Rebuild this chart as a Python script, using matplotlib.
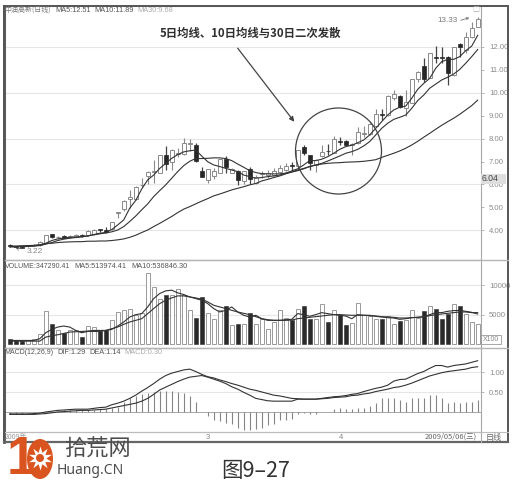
import numpy as np
import matplotlib
matplotlib.use("Agg")
import matplotlib.pyplot as plt
from matplotlib.patches import Circle, Ellipse, Rectangle

opens = [3.36,3.30,3.27,3.30,3.34,3.36,3.46,3.83,3.69,3.74,3.69,3.72,3.81,3.78,3.82,4.04,4.03,4.04,4.75,4.93,
         5.35,5.37,5.96,6.38,6.56,6.52,7.27,6.97,7.33,7.33,7.78,7.72,6.59,6.20,6.38,6.52,7.10,6.52,6.57,6.15,
         6.69,6.08,6.46,6.40,6.41,6.56,6.63,6.84,6.81,7.65,7.27,6.85,7.24,7.47,7.39,7.88,7.88,7.73,7.80,8.20,
         8.20,8.55,9.06,9.03,9.79,9.86,9.32,9.57,10.60,11.16,10.66,11.54,11.56,11.58,10.76,12.14,11.87,12.45,12.89]
closes = [3.32,3.27,3.24,3.32,3.36,3.50,3.77,3.71,3.70,3.68,3.75,3.80,3.74,3.97,4.03,4.02,3.94,4.35,4.77,5.29,
          5.47,5.88,5.98,6.53,6.59,7.27,6.89,7.50,7.36,7.80,7.80,7.02,6.34,6.66,6.60,7.10,6.78,6.66,6.18,6.57,
          6.24,6.34,6.48,6.50,6.59,6.70,6.82,6.82,7.49,7.36,6.92,7.08,7.43,7.45,7.97,7.86,7.71,7.75,8.28,8.22,
          8.62,9.06,9.04,9.86,9.93,9.38,9.61,10.59,10.91,10.62,11.72,11.52,11.54,10.88,11.98,11.98,12.42,12.83,13.21]
highs = [3.40,3.33,3.30,3.35,3.38,3.53,3.80,3.85,3.76,3.77,3.78,3.84,3.83,4.00,4.06,4.05,4.12,4.38,4.78,5.32,
         5.75,5.92,6.27,6.58,7.07,7.30,7.69,7.53,7.58,8.03,7.97,7.80,6.78,6.68,6.70,7.13,7.22,6.73,6.63,6.60,
         6.75,6.40,6.60,6.62,6.73,6.85,6.92,6.97,7.52,7.72,7.30,7.10,7.72,7.77,8.11,8.06,7.92,7.82,8.52,8.55,
         8.74,9.28,9.28,9.89,10.12,9.90,10.12,10.62,10.97,11.50,11.75,12.06,12.01,11.60,12.00,12.17,12.67,13.10,13.33]
lows = [3.28,3.24,3.22,3.27,3.30,3.33,3.44,3.68,3.63,3.66,3.66,3.70,3.71,3.76,3.80,3.92,3.90,4.00,4.55,4.82,
        4.95,5.33,5.90,6.00,6.05,6.50,6.63,6.63,7.20,7.30,7.48,6.98,6.32,6.05,6.22,6.48,6.49,6.49,5.98,6.02,
        6.00,6.00,6.27,6.30,6.35,6.50,6.58,6.63,6.63,7.28,6.63,6.56,7.20,7.29,7.36,7.72,7.68,7.28,7.76,8.06,
        8.17,8.50,8.81,9.00,9.69,9.33,9.00,9.54,10.49,10.49,10.63,11.29,11.29,10.34,10.74,11.58,11.72,12.40,12.86]
ma5 = [3.29,3.29,3.30,3.31,3.33,3.36,3.43,3.55,3.62,3.66,3.69,3.71,3.72,3.75,3.81,3.87,3.90,4.03,4.23,4.45,
       4.96,5.30,5.80,6.20,6.41,6.70,6.92,7.14,7.30,7.42,7.47,7.50,7.24,6.99,6.85,6.78,6.70,6.63,6.56,6.41,
       6.34,6.27,6.30,6.34,6.37,6.41,6.49,6.59,6.68,6.85,7.04,7.04,7.10,7.21,7.36,7.53,7.65,7.71,7.82,7.94,
       8.16,8.45,8.74,9.03,9.25,9.37,9.42,9.76,10.15,10.41,10.63,11.07,11.36,11.46,11.46,11.58,11.84,12.04,12.51]
ma10 = [3.27,3.27,3.28,3.29,3.30,3.33,3.39,3.46,3.55,3.61,3.65,3.68,3.71,3.75,3.80,3.84,3.88,3.93,4.01,4.16,
        4.38,4.62,4.89,5.15,5.47,5.73,5.98,6.27,6.56,6.82,7.01,7.13,7.13,7.14,7.16,7.16,7.13,7.04,6.89,6.75,
        6.60,6.52,6.47,6.46,6.46,6.46,6.49,6.54,6.60,6.68,6.78,6.85,6.92,7.02,7.13,7.24,7.36,7.43,7.53,7.68,
        7.87,8.16,8.45,8.67,8.84,8.93,9.03,9.32,9.66,9.90,10.20,10.38,10.56,10.68,10.82,11.02,11.29,11.58,11.89]
ma30 = [3.31,3.31,3.32,3.33,3.34,3.36,3.42,3.43,3.46,3.48,3.49,3.50,3.50,3.52,3.52,3.53,3.53,3.55,3.58,3.62,
        3.69,3.78,3.90,4.01,4.16,4.30,4.45,4.60,4.77,4.92,5.03,5.15,5.27,5.38,5.50,5.58,5.67,5.76,5.83,5.90,
        5.98,6.04,6.15,6.22,6.30,6.37,6.46,6.54,6.63,6.70,6.78,6.84,6.89,6.92,6.94,6.95,6.97,6.98,6.99,7.01,
        7.04,7.08,7.18,7.27,7.36,7.46,7.58,7.72,7.88,8.06,8.23,8.41,8.58,8.74,8.89,9.06,9.25,9.44,9.68]
volume = [850,680,600,800,900,1800,5580,3500,2370,1920,2370,2370,1240,3050,2940,2260,2490,4070,5480,5760,
          5930,5030,5370,11980,9610,7730,8300,8420,9320,8420,5760,4520,8020,5370,4240,5760,6440,3220,3390,3500,
          5370,3390,4240,2540,3790,5760,4520,4070,5990,6550,4350,4350,6890,3790,5760,5030,3340,3670,7060,5030,
          4750,4240,4240,4800,3390,3950,4070,5880,4520,5650,6550,6000,4240,5090,6890,6440,5200,3790,3500]
vol_ma5 = [680,680,680,680,680,960,1980,2540,2940,3110,2940,2370,1980,2200,2200,2200,2370,2540,3110,3790,
           4630,5030,5200,6330,7740,8590,9040,9150,8700,8420,8020,7740,7460,6890,6050,5480,5760,6330,5480,4920,
           4630,4920,4350,4070,4070,4070,4180,4240,5200,5030,4750,5030,5370,5200,5030,4920,4800,4350,5030,4920,
           4920,4750,4630,4520,4460,4240,4350,4520,4580,4630,5030,5370,5370,5590,5710,5760,5590,5420,5140]
vol_ma10 = [565,565,565,565,565,565,1240,1470,1640,1860,2090,2150,2200,2260,2370,2370,2370,2660,2940,3390,
            3790,4070,4350,5200,6050,6890,7460,7850,8190,8190,8020,7850,7630,7180,6610,6330,6050,5760,5480,5250,
            5030,4690,4350,4180,4070,4070,4070,4120,4350,4460,4580,4690,4800,4920,5030,5030,4970,4920,4920,4920,
            4860,4800,4690,4630,4580,4460,4460,4520,4580,4690,4860,5030,5140,5250,5370,5480,5480,5370,5370]
macd_bar = [-.03,-.03,-.03,-.02,-.01,0,.02,.04,.04,.05,.05,.05,.05,.06,.07,.08,.09,.12,.14,.27,
            .35,.42,.45,.49,.52,.54,.54,.54,.51,.48,.42,.25,.02,-.08,-.19,-.22,-.26,-.30,-.38,-.43,
            -.43,-.42,-.40,-.32,-.28,-.19,-.19,-.17,-.05,-.01,-.03,-.05,0,0,.08,.10,.08,.08,.12,.12,
            .17,.24,.35,.37,.37,.31,.25,.35,.37,.37,.43,.43,.37,.23,.25,.24,.27,.27,.30]
dif = [-.04,-.04,-.04,-.04,-.03,-.02,.01,.03,.05,.06,.07,.08,.08,.08,.10,.12,.13,.19,.23,.28,
       .35,.43,.53,.62,.72,.83,.92,.98,1.02,1.06,1.08,1.02,.95,.89,.86,.81,.77,.72,.68,.63,
       .58,.55,.51,.47,.43,.41,.38,.35,.34,.33,.33,.33,.35,.37,.39,.40,.42,.45,.47,.52,
       .56,.60,.63,.68,.78,.82,.83,.90,.97,1.02,1.10,1.17,1.17,1.13,1.17,1.19,1.21,1.25,1.29]
dea = [-.05,-.05,-.05,-.05,-.05,-.04,-.03,-.01,.01,.02,.03,.04,.05,.05,.06,.07,.08,.11,.14,.17,
       .20,.23,.28,.35,.45,.56,.63,.70,.77,.83,.88,.90,.92,.88,.83,.78,.72,.64,.58,.50,
       .43,.35,.32,.29,.28,.28,.28,.28,.33,.33,.33,.33,.34,.35,.37,.38,.39,.42,.43,.46,
       .48,.52,.55,.58,.62,.64,.68,.73,.79,.85,.91,.95,.99,1.02,1.04,1.06,1.08,1.12,1.14]
price_ticks = [4, 5, 6, 7, 8, 9, 10, 11, 12]
price_grid = [4, 6, 8, 10, 12]
vol_ticks = [5000, 10000]
macd_ticks = [0.5, 1.0]

W, H = 515, 486
fig = plt.figure(figsize=(W / 100, H / 100), dpi=100, facecolor="white")
LEFT, RIGHT = 4.5, 480.7
def panel(top, bottom):
    return fig.add_axes([LEFT / W, 1 - bottom / H, (RIGHT - LEFT) / W, (bottom - top) / H])

ax_p = panel(6, 260)
ax_v = panel(260, 347.5)
ax_m = panel(347.5, 432)
GRAYTXT = "#8c8c8c"
LAB = ["Liberation Sans", "DejaVu Sans"]
x = np.arange(len(closes))
for ax in (ax_p, ax_v, ax_m):
    ax.set_xlim(-0.87, 78.5)
    ax.set_xticks([])
    ax.yaxis.tick_right()
    ax.tick_params(axis="y", length=2, width=0.6, color="#aaaaaa", labelcolor=GRAYTXT, labelsize=5.6, pad=4)
    for s in ax.spines.values():
        s.set_color("#a8a8a8")
        s.set_linewidth(0.8)

o, c, h, l = map(np.array, (opens, closes, highs, lows))
down = c < o
# price
ax_p.set_ylim(2.70, 13.79)
ax_p.hlines(price_grid, -0.87, 78.5, color="#e6e6e6", lw=0.8, zorder=1)
ax_p.vlines(x[~down], l[~down], h[~down], color="#8a8a8a", lw=0.8, zorder=2)
ax_p.vlines(x[down], l[down], h[down], color="#444444", lw=0.9, zorder=2)
ax_p.bar(x[~down], np.maximum(c - o, 0.03)[~down], bottom=o[~down], width=0.68, facecolor="white", edgecolor="#8a8a8a", lw=0.7, zorder=3)
ax_p.bar(x[down], np.maximum(o - c, 0.03)[down], bottom=c[down], width=0.72, facecolor="#262626", edgecolor="#262626", lw=0.5, zorder=3)
ax_p.plot(x, ma5, color="#333333", lw=0.8, zorder=4)
ax_p.plot(x, ma10, color="#333333", lw=0.8, zorder=4)
ax_p.plot(x, ma30, color="#333333", lw=0.8, zorder=4)
ax_p.set_yticks(price_ticks)
ax_p.set_yticklabels([f"{t:.2f}" for t in price_ticks], family=LAB)

# volume
v = np.array(volume)
ax_v.set_ylim(-508, 14240)
ax_v.hlines(vol_ticks, -0.87, 78.5, color="#e6e6e6", lw=0.8, zorder=1)
ax_v.bar(x[~down], v[~down], width=0.66, facecolor="white", edgecolor="#999999", lw=0.7, zorder=2)
ax_v.bar(x[down], v[down], width=0.72, facecolor="#2a2a2a", edgecolor="#2a2a2a", lw=0.4, zorder=2)
ax_v.plot(x, vol_ma5, color="#333333", lw=0.8, zorder=3)
ax_v.plot(x, vol_ma10, color="#333333", lw=0.8, zorder=3)
ax_v.set_yticks(vol_ticks)
ax_v.set_yticklabels([str(t) for t in vol_ticks], family=LAB)

# macd
ax_m.set_ylim(-0.49, 1.62)
ax_m.hlines([0.5, 1.0], -0.87, 78.5, color="#e6e6e6", lw=0.8, zorder=1)
ax_m.axhline(0, color="#9a9a9a", lw=0.6, zorder=1)
ax_m.vlines(x, 0, macd_bar, color="#858585", lw=0.8, zorder=2)
ax_m.plot(x, dif, color="#333333", lw=0.8, zorder=3)
ax_m.plot(x, dea, color="#333333", lw=0.8, zorder=3)
ax_m.set_yticks(macd_ticks)
ax_m.set_yticklabels([f"{t:.2f}" for t in macd_ticks], family=LAB)

# overlay in pixel coordinates
ov = fig.add_axes([0, 0, 1, 1], facecolor="none")
ov.set_xlim(0, W)
ov.set_ylim(H, 0)
ov.axis("off")
CJK = ["Noto Sans CJK SC", "DejaVu Sans"]
def txt(px, py, s, size=6, color="#555555", ha="left", va="center", **kw):
    kw.setdefault("family", CJK)
    return ov.text(px, py, s, fontsize=size, color=color, ha=ha, va=va, **kw)

ov.add_patch(Rectangle((4, 6), 504, 436, fill=False, ec="#555555", lw=1.4))
ov.plot([4, 4], [6, 442], color="#555555", lw=2)
ov.plot([4, 508], [442, 442], color="#666666", lw=1.6)
ov.plot([RIGHT, RIGHT], [432, 442], color="#a8a8a8", lw=0.8)
ov.plot([4.5, 508], [260, 260], color="#b5b5b5", lw=1)
ov.plot([4.5, 508], [347.5, 347.5], color="#b5b5b5", lw=1)
ov.plot([4.5, 508], [432, 432], color="#bdbdbd", lw=0.8)

HS = 5.3
txt(4.5, 10, "中油高新(日线)", 5.0, "#777777")
txt(55, 10, "MA5:12.51", HS, "#555555", family=LAB)
txt(94, 10, "MA10:11.89", HS, "#555555", family=LAB)
txt(137, 10, "MA30:9.68", HS, "#aaaaaa", family=LAB)
txt(4.5, 266, "VOLUME:347290.41", 5.0, "#555555", family=LAB)
txt(74, 266, "MA5:513974.41", HS, "#555555", family=LAB)
txt(131, 266, "MA10:536846.30", HS, "#555555", family=LAB)
txt(4.5, 352, "MACD(12,26,9)", 5.0, "#555555", family=LAB)
txt(57, 352, "DIF:1.29", HS, "#555555", family=LAB)
txt(89, 352, "DEA:1.14", HS, "#555555", family=LAB)
txt(124, 352, "MACD:0.30", HS, "#aaaaaa", family=LAB)

txt(250, 33, "5日均线、10日均线与30日二次发散", 8.2, "#2f2f2f", ha="center", fontweight="bold")
ov.annotate("", xy=(296, 124), xytext=(236, 46),
            arrowprops=dict(arrowstyle="-|>", color="#444444", lw=0.9, mutation_scale=7))
ov.add_patch(Circle((338.5, 151), 43, fill=False, ec="#444444", lw=0.9))

txt(437, 21, "13.33", 5.8, "#777777", family=LAB)
ov.annotate("", xy=(472, 17), xytext=(458, 21), arrowprops=dict(arrowstyle="->", color="#777777", lw=0.6, mutation_scale=4))
txt(16, 250, "←", 6, "#555555")
txt(27, 251, "3.22", 6, "#888888", family=LAB)
txt(476, 10, "□", 5, "#aaaaaa", ha="center")

ov.add_patch(Rectangle((481, 174), 25, 10, fc="#dedede", ec="none", zorder=5))
txt(481.5, 178.5, "6.04", 6.2, "#444444", family=LAB, zorder=6)
ov.add_patch(Rectangle((481, 335), 20, 9, fill=False, ec="#999999", lw=0.6))
txt(491, 339.5, "X100", 5.0, "#888888", ha="center", family=LAB)

txt(5, 436.5, "2009年", 5.0, "#999999")
txt(208, 437, "3", 5.6, "#888888", ha="center", family=LAB)
txt(341, 437, "4", 5.6, "#888888", ha="center", family=LAB)
txt(425, 437, "2009/05/06(三)", 5.4, "#666666", family=CJK)
txt(494, 437, "日线", 5.8, "#666666", ha="center")

# logo and caption
ORANGE = "#d9541e"
txt(21, 460, "1", 38, ORANGE, ha="center", fontweight="bold", family=LAB, zorder=7)
ov.add_patch(Ellipse((40, 459), 26, 40, fc=ORANGE, ec="none", zorder=7))
ov.scatter([40], [458], s=300, marker=(10, 1, 0), c="white", linewidths=0, zorder=8)
ov.add_patch(Circle((40, 458), 4, fc=ORANGE, ec="none", zorder=9))
txt(97, 449, "拾荒网", 16, "#4d4d4d", ha="center", zorder=7)
txt(90, 470, "Huang.CN", 10, "#4d4d4d", ha="center", family=["Noto Sans"])
txt(256, 471, "图9–27", 15.5, "#333333", ha="center")

fig.savefig("out.png", dpi=100, facecolor="white")
